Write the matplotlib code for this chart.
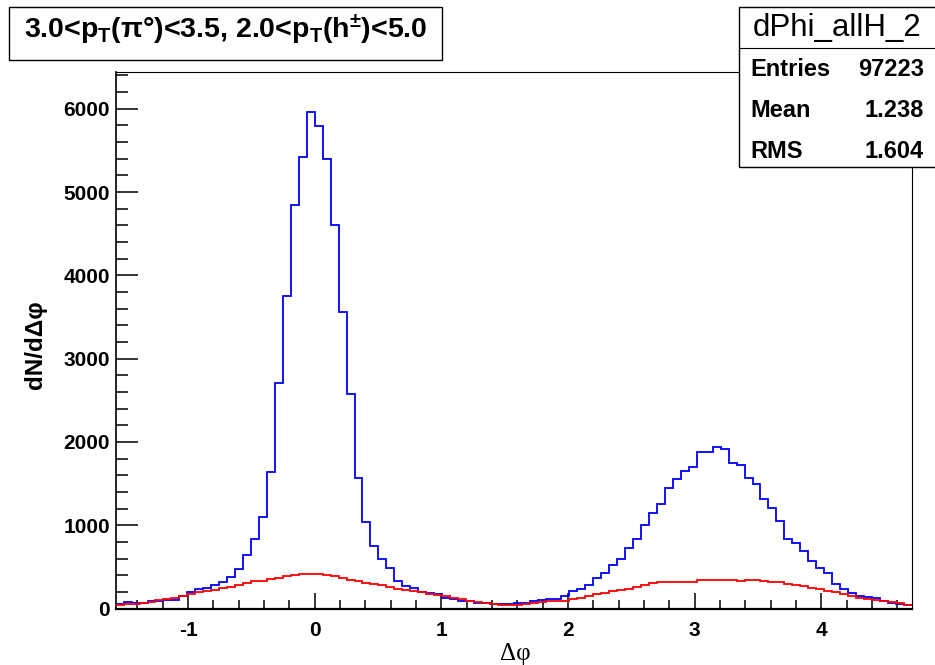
import numpy as np
import matplotlib.pyplot as plt
from matplotlib.patches import Rectangle
from matplotlib.ticker import MultipleLocator

plt.rcParams['font.family'] = ['Liberation Sans', 'DejaVu Sans']
plt.rcParams['mathtext.default'] = 'regular'
plt.rcParams['axes.unicode_minus'] = False

# histogram: 100 bins from -pi/2 to 3pi/2
n_bins = 100
x_lo, x_hi = -np.pi / 2, 3 * np.pi / 2

# all hadrons (blue)
dphi_all = [54, 74, 62, 70, 90, 95, 100, 102, 150, 198,
            230, 250, 282, 314, 382, 474, 642, 831, 1095, 1642,
            2704, 3750, 4838, 5426, 5966, 5790, 5402, 4598, 3560, 2575,
            1570, 1042, 754, 590, 490, 330, 270, 242, 200, 185,
            170, 125, 118, 95, 90, 72, 62, 55, 55, 52,
            68, 72, 92, 98, 118, 118, 154, 206, 230, 282,
            362, 430, 522, 590, 722, 834, 1002, 1142, 1250, 1442,
            1554, 1654, 1702, 1874, 1874, 1935, 1915, 1750, 1723, 1570,
            1494, 1314, 1202, 1054, 834, 782, 694, 574, 482, 422,
            294, 234, 182, 154, 138, 130, 94, 70, 54, 42]

# background (red)
dphi_bkg = [40, 50, 58, 70, 84, 98, 110, 126, 150, 175,
            195, 210, 228, 245, 262, 282, 305, 325, 335, 350,
            365, 385, 400, 412, 415, 415, 405, 385, 365, 345,
            325, 310, 295, 280, 262, 235, 228, 214, 195, 180,
            162, 145, 125, 110, 95, 80, 65, 55, 48, 45,
            45, 52, 62, 75, 85, 86, 88, 110, 130, 150,
            170, 190, 206, 222, 238, 262, 282, 302, 314, 314,
            322, 322, 324, 338, 340, 342, 342, 342, 330, 342,
            340, 330, 320, 314, 295, 280, 265, 248, 232, 210,
            195, 170, 150, 130, 115, 100, 88, 75, 62, 48]

title = r'3.0<p$_{T}$($\pi$°)<3.5, 2.0<p$_{T}$(h$^{\pm}$)<5.0'
stat_names = ['Entries', 'Mean', 'RMS']
stat_values = ['97223', '1.238', '1.604']

W, H = 935, 665
fig = plt.figure(figsize=(W / 100, H / 100), dpi=100)


def fx(px):
    return px / W


def fy(py):
    return 1 - py / H


ax = fig.add_axes([fx(115.7), fy(608.5), fx(911.7) - fx(115.7), fy(72.3) - fy(608.5)])

edges = np.linspace(x_lo, x_hi, n_bins + 1)
ax.stairs(dphi_all, edges, baseline=None, color='#0000ff', linewidth=1.3, zorder=3)
ax.stairs(dphi_bkg, edges, baseline=None, color='#ff0000', linewidth=1.3, zorder=4)

ax.set_xlim(x_lo, x_hi)
ax.set_ylim(0, 6437)

ax.xaxis.set_major_locator(MultipleLocator(1))
ax.xaxis.set_minor_locator(MultipleLocator(0.2))
ax.yaxis.set_major_locator(MultipleLocator(1000))
ax.yaxis.set_minor_locator(MultipleLocator(200))

ax.tick_params(axis='x', which='major', direction='in', length=11.5, width=1.1, pad=9,
               labelsize=15, top=False)
ax.tick_params(axis='x', which='minor', direction='in', length=6.3, width=1.1, top=False)
ax.tick_params(axis='y', which='major', direction='in', length=16, width=1.1, pad=4,
               labelsize=15, right=False)
ax.tick_params(axis='y', which='minor', direction='in', length=8.6, width=1.1, right=False)
for lab in ax.get_xticklabels() + ax.get_yticklabels():
    lab.set_fontweight('bold')

ax.spines['bottom'].set_linewidth(1.6)
ax.spines['left'].set_linewidth(1.2)
ax.spines['top'].set_linewidth(0.8)
ax.spines['right'].set_linewidth(0.8)

# axis titles
fig.text(fx(36), fy(345), 'dN/dΔφ', rotation=90, ha='center', va='center',
         fontsize=17.5, fontweight='bold')
fig.text(fx(515), fy(654), 'Δφ', ha='center', va='center', fontsize=18,
         family=['Liberation Serif', 'DejaVu Serif'])

# title box
fig.add_artist(Rectangle((fx(9.3), fy(60)), fx(441.7) - fx(9.3), fy(7.3) - fy(60),
                         transform=fig.transFigure, facecolor='white',
                         edgecolor='black', linewidth=1.0, zorder=10))
fig.text(fx(225.5), fy(30), title, ha='center', va='center', fontsize=20.5,
         fontweight='bold', zorder=11)

# stats box
fig.add_artist(Rectangle((fx(739.3), fy(166.7)), fx(940) - fx(739.3), fy(7.3) - fy(166.7),
                         transform=fig.transFigure, facecolor='white',
                         edgecolor='black', linewidth=1.0, zorder=10))
fig.add_artist(plt.Line2D([fx(739.3), fx(940)], [fy(47.7), fy(47.7)],
                          transform=fig.transFigure, color='black', linewidth=0.8, zorder=11))
fig.text(fx(837.5), fy(28), 'dPhi_allH_2', ha='center', va='center', fontsize=22.5, zorder=11)
for i, (name, val) in enumerate(zip(stat_names, stat_values)):
    yy = fy(70 + 40.8 * i)
    fig.text(fx(750), yy, name, ha='left', va='center', fontsize=17,
             fontweight='bold', zorder=11)
    fig.text(fx(924), yy, val, ha='right', va='center', fontsize=17,
             fontweight='bold', zorder=11)

fig.savefig('out.png', dpi=100)
